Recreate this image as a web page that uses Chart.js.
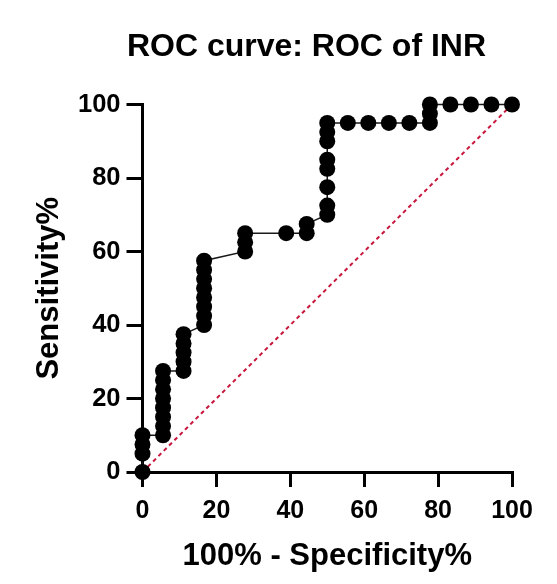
<!DOCTYPE html>
<html>
<head>
<meta charset="utf-8">
<script src="https://cdn.jsdelivr.net/npm/chart.js@4/dist/chart.umd.min.js"></script>
<style>
  html, body { margin: 0; padding: 0; background: #ffffff; }
  #wrap { width: 557px; height: 584px; }
</style>
</head>
<body>
<div id="wrap"><canvas id="c" width="557" height="584"></canvas></div>
<script>
// ROC curve points (100% - Specificity%, Sensitivity%)
const fpr = [0, 0, 0, 0,
  5.56, 5.56, 5.56, 5.56, 5.56, 5.56, 5.56, 5.56,
  11.11, 11.11, 11.11, 11.11, 11.11,
  16.67, 16.67, 16.67, 16.67, 16.67, 16.67, 16.67, 16.67,
  27.78, 27.78, 27.78,
  38.89,
  44.44, 44.44,
  50, 50, 50, 50, 50, 50, 50, 50,
  55.56, 61.11, 66.67, 72.22,
  77.78, 77.78, 77.78,
  83.33, 88.89, 94.44, 100];
const sensitivity = [0, 5, 7.5, 10,
  10, 12.5, 15, 17.5, 20, 22.5, 25, 27.5,
  27.5, 30, 32.5, 35, 37.5,
  40, 42.5, 45, 47.5, 50, 52.5, 55, 57.5,
  60, 62.5, 65,
  65,
  65, 67.5,
  70, 72.5, 77.5, 82.5, 85, 90, 92.5, 95,
  95, 95, 95, 95,
  95, 97.5, 100,
  100, 100, 100, 100];
// reference (chance) line
const chanceX = [0, 100];
const chanceY = [0, 100];
const axisTicks = [0, 20, 40, 60, 80, 100];

const titleText = 'ROC curve: ROC of INR';
const xTitle = '100% - Specificity%';
const yTitle = 'Sensitivity%';

const FONT = '"Liberation Sans", Arial, Helvetica, sans-serif';

const rocData = fpr.map((x, i) => ({ x: x, y: sensitivity[i] }));
const chanceData = chanceX.map((x, i) => ({ x: x, y: chanceY[i] }));

const titlePlugin = {
  id: 'customTitle',
  afterDraw(chart) {
    const ctx = chart.ctx;
    ctx.save();
    ctx.font = 'bold 32px ' + FONT;
    ctx.fillStyle = '#000';
    ctx.textAlign = 'center';
    ctx.textBaseline = 'alphabetic';
    ctx.fillText(titleText, 306.5, 56);
    ctx.restore();
  }
};

new Chart(document.getElementById('c'), {
  type: 'scatter',
  data: {
    datasets: [
      {
        label: 'ROC',
        data: rocData,
        showLine: true,
        borderColor: '#1a1a1a',
        borderWidth: 1.5,
        backgroundColor: '#000',
        pointBackgroundColor: '#000',
        pointBorderColor: '#000',
        pointBorderWidth: 0,
        pointRadius: 8,
        pointHoverRadius: 8,
        clip: false,
        order: 0
      },
      {
        label: 'Chance',
        data: chanceData,
        showLine: true,
        borderColor: '#c8163c',
        borderWidth: 2,
        borderDash: [4, 3.5],
        pointRadius: 0,
        clip: false,
        order: 1
      }
    ]
  },
  options: {
    responsive: false,
    animation: false,
    events: [],
    layout: { padding: { top: 104.5, right: 45, left: 0, bottom: 0 } },
    plugins: {
      legend: { display: false },
      tooltip: { enabled: false },
      title: { display: false }
    },
    scales: {
      x: {
        type: 'linear',
        min: 0, max: 100,
        afterBuildTicks(scale) { scale.ticks = axisTicks.map(v => ({ value: v })); },
        afterFit(scale) { scale.height = 584 - 472; },
        ticks: {
          color: '#000',
          font: { family: FONT, size: 25, weight: 'bold' },
          padding: 9,
          maxRotation: 0
        },
        grid: {
          display: true,
          drawOnChartArea: false,
          drawTicks: true,
          tickLength: 15,
          color: '#000',
          lineWidth: 3
        },
        border: { display: true, color: '#000', width: 3 },
        title: {
          display: true,
          text: xTitle,
          color: '#000',
          font: { family: FONT, size: 31, weight: 'bold' },
          padding: { top: 0, bottom: 9 }
        }
      },
      y: {
        type: 'linear',
        min: 0, max: 100,
        afterBuildTicks(scale) { scale.ticks = axisTicks.map(v => ({ value: v })); },
        afterFit(scale) { scale.width = 142.5; },
        ticks: {
          color: '#000',
          font: { family: FONT, size: 25.5, weight: 'bold' },
          padding: 6
        },
        grid: {
          display: true,
          drawOnChartArea: false,
          drawTicks: true,
          tickLength: 16,
          color: '#000',
          lineWidth: 3
        },
        border: { display: true, color: '#000', width: 3 },
        title: {
          display: true,
          text: yTitle,
          color: '#000',
          font: { family: FONT, size: 31, weight: 'bold' },
          padding: { top: 31, bottom: 0 }
        }
      }
    }
  },
  plugins: [titlePlugin]
});
</script>
</body>
</html>
